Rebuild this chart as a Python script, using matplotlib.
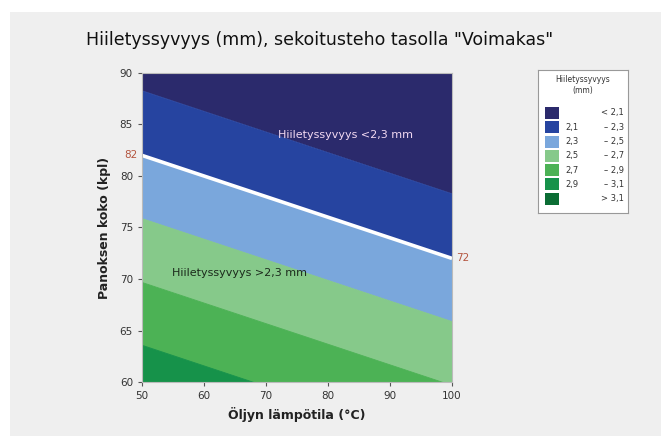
import matplotlib.pyplot as plt
from matplotlib.patches import Rectangle

# contour boundaries: level, P at T=50, P at T=100
levels = [2.1, 2.3, 2.5, 2.7, 2.9, 3.1]
p_at_50 = [88.3, 82.0, 75.9, 69.7, 63.6, 57.5]
p_at_100 = [78.3, 72.0, 65.9, 59.7, 53.6, 47.5]
temps = [50, 100]

band_colors = ["#2b2a6c", "#2644a0", "#7aa7dc", "#86c98a", "#4cb255", "#16924a", "#0b6d34"]
legend_lo = ["", "2,1", "2,3", "2,5", "2,7", "2,9", ""]
legend_hi = ["< 2,1", "– 2,3", "– 2,5", "– 2,7", "– 2,9", "– 3,1", "> 3,1"]

ref_level = 2.3
ref_left, ref_right = 82, 72


def main():
    fig = plt.figure(figsize=(6.61, 4.36), dpi=100)
    fig.patch.set_facecolor("white")
    fig.patches.append(Rectangle((10 / 661, 0), 1, 1 - 12 / 436, transform=fig.transFigure,
                                 facecolor="#efefef", edgecolor="none", zorder=-10))

    ax = fig.add_axes([142 / 661, 54 / 436, 310 / 661, 309 / 436])

    # bands from top (lowest depth) to bottom
    bounds_lo = [[200, 200]] + [[a, b] for a, b in zip(p_at_50, p_at_100)]
    bounds_hi = [[a, b] for a, b in zip(p_at_50, p_at_100)] + [[-100, -100]]
    for top, bot, col in zip(bounds_lo, bounds_hi, band_colors):
        ax.fill_between(temps, bot, top, facecolor=col, edgecolor=col, linewidth=0.6)

    i = levels.index(ref_level)
    ax.plot(temps, [p_at_50[i], p_at_100[i]], color="white", lw=2.6, solid_capstyle="butt")

    ax.set_xlim(50, 100)
    ax.set_ylim(60, 90)
    ax.set_xticks(range(50, 101, 10))
    ax.set_yticks(range(60, 91, 5))
    ax.tick_params(labelsize=7.5, colors="#555555", length=3, width=0.8, labelcolor="#333333")
    for s in ax.spines.values():
        s.set_color("#bbbbbb")
        s.set_linewidth(0.8)

    ax.text(72, 84, "Hiiletyssyvyys <2,3 mm", color="#f2d9f2", fontsize=8, va="center")
    ax.text(54.8, 70.6, "Hiiletyssyvyys >2,3 mm", color="#1c2a1c", fontsize=8, va="center")
    ax.text(49.2, ref_left, str(ref_left), color="#b4553f", fontsize=7.5, ha="right", va="center")
    ax.text(100.6, ref_right, str(ref_right), color="#b4553f", fontsize=7.5, ha="left", va="center")

    ax.set_xlabel("Öljyn lämpötila (°C)", fontsize=9, fontweight="bold", color="#222222", labelpad=4)
    ax.set_ylabel("Panoksen koko (kpl)", fontsize=9, fontweight="bold", color="#222222", labelpad=6)
    fig.text(320 / 661, 1 - 40 / 436, 'Hiiletyssyvyys (mm), sekoitusteho tasolla "Voimakas"',
             ha="center", va="center", fontsize=12.5, color="#111111")

    # legend box
    lg = fig.add_axes([538 / 661, (436 - 213) / 436, 90 / 661, 143 / 436])
    lg.set_xlim(538, 628)
    lg.set_ylim(213, 70)
    lg.set_xticks([])
    lg.set_yticks([])
    for s in lg.spines.values():
        s.set_color("#999999")
        s.set_linewidth(0.8)
    lg.text(583, 80, "Hiiletyssyvyys", fontsize=5.5, ha="center", va="center", color="#333333")
    lg.text(583, 91, "(mm)", fontsize=5.5, ha="center", va="center", color="#333333")
    for k, (col, lo, hi) in enumerate(zip(band_colors, legend_lo, legend_hi)):
        yc = 113 + k * 14.3
        lg.add_patch(Rectangle((545, yc - 6), 14, 12, facecolor=col, edgecolor="none"))
        lg.text(565, yc, lo, fontsize=6, va="center", ha="left", color="#333333")
        lg.text(624, yc, hi, fontsize=6, va="center", ha="right", color="#333333")

    fig.savefig("out.png", dpi=100)


if __name__ == "__main__":
    main()
